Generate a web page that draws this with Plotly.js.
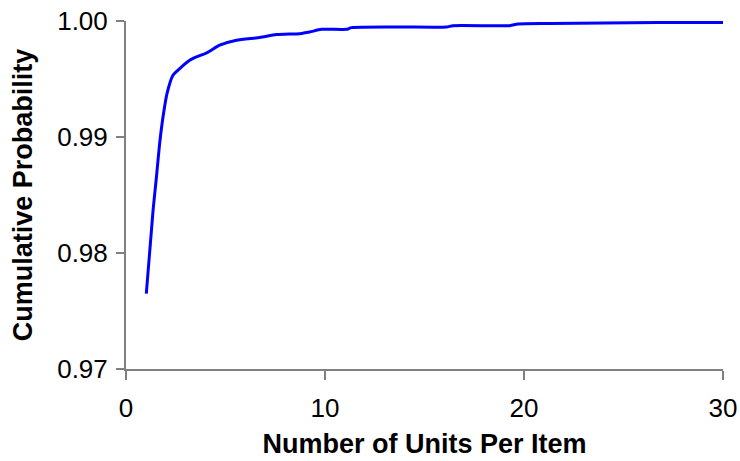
<!DOCTYPE html>
<html>
<head>
<meta charset="utf-8">
<script src="https://cdn.plot.ly/plotly-3.0.1.min.js"></script>
<style>html,body{margin:0;padding:0;background:#fff;}#chart{width:740px;height:461px;}</style>
</head>
<body>
<div id="chart"></div>
<script>
var unitsPerItem = [1.02,1.36,1.53,1.69,1.86,2.06,2.36,2.70,3.20,3.54,4.04,4.71,5.55,6.72,7.56,8.73,9.23,9.82,11.08,11.33,13.75,16.1,16.43,19.28,19.70,21.27,26.73,30.0];
var cumulativeProb = [0.9765,0.98368,0.98655,0.98943,0.99172,0.99374,0.99532,0.9959,0.99661,0.9969,0.99724,0.99791,0.99834,0.99857,0.99883,0.99891,0.99905,0.99928,0.99928,0.99943,0.99948,0.99948,0.9996,0.9996,0.99974,0.99978,0.99986,0.99986];
var xTicks = [0,10,20,30];
var yTicks = [0.97,0.98,0.99,1.00];

var trace = {
  x: unitsPerItem, y: cumulativeProb, type: 'scatter', mode: 'lines',
  line: {color: '#0000FF', width: 3, shape: 'spline', smoothing: 0.6},
  hoverinfo: 'none'
};
var axisFont = {family: 'Liberation Sans, Arial, sans-serif', size: 26, color: '#000'};
var titleFont = {family: 'Liberation Sans, Arial, sans-serif', size: 27, color: '#000', weight: 'bold'};
var layout = {
  width: 740, height: 461,
  margin: {l: 126, r: 17, t: 21, b: 92, pad: 0},
  paper_bgcolor: '#fff', plot_bgcolor: '#fff',
  showlegend: false,
  xaxis: {
    range: [0, 30], tickvals: xTicks, ticktext: xTicks.map(String),
    showgrid: false, zeroline: false, showline: true, linecolor: '#808080', linewidth: 2,
    ticks: 'outside', ticklen: 9, tickwidth: 2, tickcolor: '#808080',
    tickfont: axisFont, ticklabelstandoff: 6,
    title: {text: 'Number of Units Per Item', font: titleFont, standoff: 12}
  },
  yaxis: {
    range: [0.97, 1.00], tickvals: yTicks, ticktext: yTicks.map(function(v){return v.toFixed(2);}),
    showgrid: false, zeroline: false, showline: true, linecolor: '#808080', linewidth: 2,
    ticks: 'outside', ticklen: 8, tickwidth: 2, tickcolor: '#808080',
    tickfont: axisFont, ticklabelstandoff: 3,
    title: {text: 'Cumulative Probability', font: titleFont, standoff: 17}
  }
};
Plotly.newPlot('chart', [trace], layout, {staticPlot: true, displayModeBar: false});
</script>
</body>
</html>
